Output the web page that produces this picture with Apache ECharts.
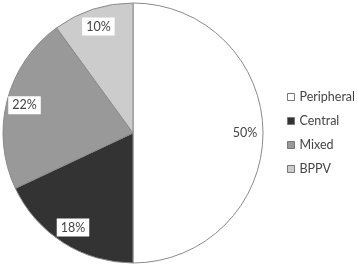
<!DOCTYPE html>
<html>
<head>
<meta charset="utf-8">
<script src="https://cdn.jsdelivr.net/npm/echarts@6/dist/echarts.min.js"></script>
<style>html,body{margin:0;padding:0;background:#fff}#c{width:358px;height:265px}</style>
</head>
<body>
<div id="c"></div>
<script>
const categories = ['Peripheral', 'Central', 'Mixed', 'BPPV'];
const values = [50, 18, 22, 10];
const colors = ['#ffffff', '#333333', '#999999', '#cccccc'];

const chart = echarts.init(document.getElementById('c'), null, {renderer: 'canvas'});
const data = categories.map((n, i) => ({name: n, value: values[i], itemStyle: {color: colors[i]}}));
const labelData = categories.map((n, i) => ({name: n, value: values[i]}));
chart.setOption({
  animation: false,
  legend: {
    orient: 'vertical', left: 287, top: 90, padding: 0,
    itemWidth: 7, itemHeight: 7, itemGap: 10, itemTextGap: 3,
    icon: 'rect',
    itemStyle: {borderColor: '#777', borderWidth: 1},
    textStyle: {fontFamily: 'Lato', fontSize: 12.5, color: '#444', lineHeight: 14},
    data: categories
  },
  series: [
    {
      type: 'pie', center: [133, 133], radius: [0, 130], startAngle: 90, clockwise: true,
      data: data,
      itemStyle: {borderColor: '#8a8a8a', borderWidth: 1},
      label: {show: false}, labelLine: {show: false}, silent: true
    },
    {
      type: 'pie', center: [133, 133], radius: [88, 130], startAngle: 90, clockwise: true,
      data: labelData, legendHoverLink: false, silent: true,
      itemStyle: {color: 'transparent', borderWidth: 0},
      label: {
        show: true, position: 'inside', formatter: p => p.value + '%',
        fontFamily: 'Lato', fontSize: 12.5, color: '#444',
        backgroundColor: '#fff', padding: [3, 4, 2, 4]
      },
      labelLine: {show: false}
    }
  ]
});
</script>
</body>
</html>
